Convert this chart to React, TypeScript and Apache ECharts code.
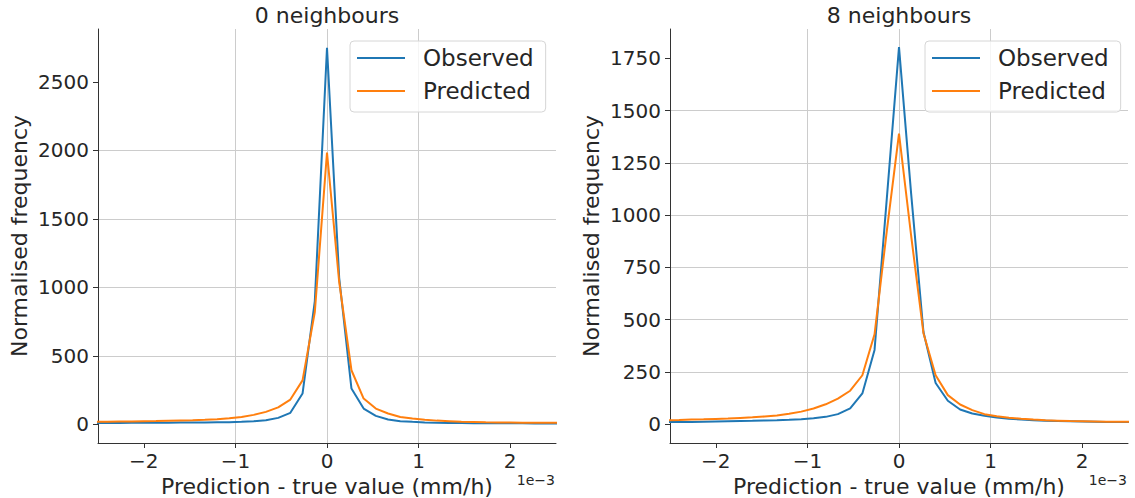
import React, { useEffect, useRef } from "react";
import * as echarts from "echarts";

// Bin centres (×1e-3 mm/h)
const binCentres = [
  -2.667, -2.533, -2.4, -2.267, -2.133, -2.0, -1.867, -1.733, -1.6, -1.467,
  -1.333, -1.2, -1.067, -0.933, -0.8, -0.667, -0.533, -0.4, -0.267, -0.133,
  0,
  0.133, 0.267, 0.4, 0.533, 0.667, 0.8, 0.933, 1.067, 1.2, 1.333,
  1.467, 1.6, 1.733, 1.867, 2.0, 2.133, 2.267, 2.4, 2.533, 2.667,
];

// 0 neighbours
const observed0 = [
  8, 8, 9, 9, 10, 10, 11, 11, 12, 12,
  13, 14, 15, 17, 22, 29, 46, 83, 224, 900,
  2750,
  1070, 260, 114, 61, 34, 22, 17, 13, 11, 9,
  8, 7, 7, 6, 6, 6, 5, 5, 5, 5,
];
const predicted0 = [
  16, 17, 18, 19, 20, 22, 23, 25, 27, 29,
  32, 36, 43, 53, 68, 90, 123, 180, 320, 820,
  1985,
  1040, 394, 187, 114, 78, 53, 41, 32, 26, 22,
  18, 16, 14, 13, 12, 11, 11, 10, 10, 10,
];

// 8 neighbours
const observed8 = [
  9, 10, 10, 11, 12, 13, 14, 15, 16, 18,
  19, 21, 24, 28, 35, 48, 76, 147, 355, 1080,
  1803,
  1100, 441, 197, 112, 70, 51, 40, 32, 26, 22,
  19, 17, 15, 14, 13, 12, 11, 10, 10, 9,
];
const predicted8 = [
  18, 19, 20, 22, 23, 25, 27, 30, 33, 37,
  42, 50, 60, 75, 95, 122, 160, 234, 430, 925,
  1390,
  900, 435, 234, 139, 94, 67, 48, 38, 31, 26,
  22, 19, 17, 15, 14, 13, 12, 12, 11, 11,
];

const xTicks = [-2, -1, 0, 1, 2];
const yTicks0 = [0, 500, 1000, 1500, 2000, 2500];
const yTicks8 = [0, 250, 500, 750, 1000, 1250, 1500, 1750];

const titles = ["0 neighbours", "8 neighbours"];
const seriesNames = ["Observed", "Predicted"];
const xLabel = "Prediction - true value (mm/h)";
const yLabel = "Normalised frequency";
const offsetLabel = "1e\u22123";

const FONT = "DejaVu Sans, sans-serif";
const TEXT = "#262626";
const AXIS = "#333333";
const GRIDC = "#cccccc";
const BLUE = "#1f77b4";
const ORANGE = "#ff7f0e";

const pairs = (ys: number[]) => binCentres.map((x, i) => [x, ys[i]]);
const fmtMinus = (v: number) => (v < 0 ? "\u2212" + String(-v) : String(v));
const fmtPlain = (v: number) => String(v);

const GRID_W = 458;
const GRID_H = 414;
const GRID_TOP = 29;
const LEFTS = [98, 670];

export default function App() {
  const ref = useRef<HTMLDivElement>(null);

  useEffect(() => {
    if (!ref.current) return;
    const chart = echarts.init(ref.current, null, { renderer: "svg" });

    const yRanges = [
      { min: -137.5, max: 2887.5, ticks: yTicks0 },
      { min: -90, max: 1890, ticks: yTicks8 },
    ];

    const grids = LEFTS.map((l) => ({
      left: l,
      top: GRID_TOP,
      width: GRID_W,
      height: GRID_H,
      containLabel: false,
      outerBoundsMode: "none",
    }));

    const xAxes = [0, 1].map((g) => ({
      gridIndex: g,
      type: "value",
      min: -2.5,
      max: 2.5,
      axisLine: { show: true, onZero: false, lineStyle: { color: AXIS, width: 1 } },
      axisTick: {
        show: true,
        length: 5,
        inside: false,
        customValues: xTicks,
        lineStyle: { color: AXIS, width: 1 },
      },
      axisLabel: {
        customValues: xTicks,
        formatter: fmtMinus,
        fontSize: 20,
        fontFamily: FONT,
        color: TEXT,
        margin: 8,
      },
      splitLine: {
        show: true,
        showMinLine: false,
        showMaxLine: false,
        lineStyle: { color: GRIDC, width: 1 },
      },
      name: xLabel,
      nameLocation: "middle",
      nameGap: 25,
      nameTextStyle: { fontSize: 22, fontFamily: FONT, color: TEXT },
    }));

    const yAxes = [0, 1].map((g) => ({
      gridIndex: g,
      type: "value",
      min: yRanges[g].min,
      max: yRanges[g].max,
      axisLine: { show: true, onZero: false, lineStyle: { color: AXIS, width: 1 } },
      axisTick: {
        show: true,
        length: 5,
        inside: false,
        customValues: yRanges[g].ticks,
        lineStyle: { color: AXIS, width: 1 },
      },
      axisLabel: {
        customValues: yRanges[g].ticks,
        formatter: fmtPlain,
        fontSize: 20,
        fontFamily: FONT,
        color: TEXT,
        margin: 9,
      },
      splitLine: {
        show: true,
        showMinLine: false,
        showMaxLine: false,
        lineStyle: { color: GRIDC, width: 1 },
      },
      name: yLabel,
      nameLocation: "middle",
      nameGap: 68,
      nameTextStyle: { fontSize: 22, fontFamily: FONT, color: TEXT },
    }));

    const mkSeries = (name: string, data: number[][], g: number, color: string) => ({
      type: "line",
      name,
      xAxisIndex: g,
      yAxisIndex: g,
      data,
      showSymbol: false,
      symbol: "none",
      clip: true,
      color,
      lineStyle: { color, width: 2 },
      z: color === ORANGE ? 3 : 2,
    });

    const legends = LEFTS.map((l, g) => ({
      left: l + 252 + (g === 1 ? 3 : 0),
      top: 41,
      orient: "vertical",
      data: seriesNames,
      icon: "rect",
      itemWidth: 48,
      itemHeight: 2,
      itemGap: 9,
      padding: [5, 12, 9, 7],
      borderColor: "#d6d6d6",
      borderWidth: 1,
      borderRadius: 4,
      backgroundColor: "rgba(255,255,255,0.8)",
      selectedMode: false,
      textStyle: {
        fontSize: 23,
        fontFamily: FONT,
        color: TEXT,
        lineHeight: 24,
        padding: [0, 0, 0, 13],
      },
    }));

    const graphics: any[] = [];
    LEFTS.forEach((l, g) => {
      graphics.push({
        type: "text",
        x: l + GRID_W / 2,
        y: 15,
        style: {
          text: titles[g],
          fontSize: 22,
          fontFamily: FONT,
          fill: TEXT,
          align: "center",
          verticalAlign: "middle",
        },
      });
      graphics.push({
        type: "text",
        x: l + GRID_W - 1,
        y: 480,
        style: {
          text: offsetLabel,
          fontSize: 14,
          fontFamily: FONT,
          fill: TEXT,
          align: "right",
          verticalAlign: "middle",
        },
      });
    });

    chart.setOption({
      animation: false,
      backgroundColor: "#ffffff",
      grid: grids,
      xAxis: xAxes,
      yAxis: yAxes,
      legend: legends,
      series: [
        mkSeries(seriesNames[0], pairs(observed0), 0, BLUE),
        mkSeries(seriesNames[1], pairs(predicted0), 0, ORANGE),
        mkSeries(seriesNames[0], pairs(observed8), 1, BLUE),
        mkSeries(seriesNames[1], pairs(predicted8), 1, ORANGE),
      ],
      graphic: graphics,
    });

    return () => chart.dispose();
  }, []);

  return (
    <div
      ref={ref}
      style={{ position: "fixed", left: 0, top: 0, width: 1135, height: 498, background: "#fff" }}
    />
  );
}
